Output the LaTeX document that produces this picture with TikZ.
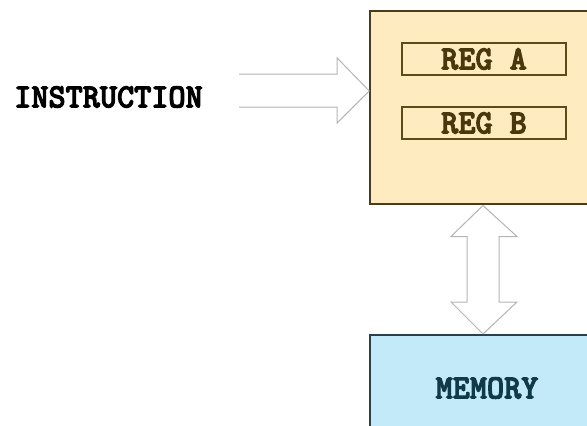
\documentclass[tikz,border=0pt]{standalone}
\usepackage{fontspec}
\newfontfamily\boxfont[FakeStretch=0.96, FakeBold=3]{lmmonolt10-bold.otf}
\usetikzlibrary{calc}
\definecolor{cpufill}{HTML}{FEEBC0}
\definecolor{cpuline}{HTML}{4A3C18}
\definecolor{regline}{HTML}{5C4A18}
\definecolor{regtext}{HTML}{4A380C}
\definecolor{memfill}{HTML}{C2EAF8}
\definecolor{memline}{HTML}{27414E}
\definecolor{memtext}{HTML}{103A4A}
\definecolor{arrline}{HTML}{B4B4B4}
\tikzset{
  lbl/.style={font=\boxfont\fontsize{34}{34}\selectfont, inner sep=0pt},
  regbox/.style={draw=regline, line width=1.6pt, fill=cpufill, minimum width=164pt, minimum height=32pt, inner sep=0pt},
  blockarrow/.style={draw=arrline, line width=1pt, fill=white, line join=miter},
}
\begin{document}
\begin{tikzpicture}[x=1pt,y=-1pt]
\useasboundingbox (0,0) rectangle (587,426);
\clip (0,0) rectangle (587,426);
% CPU box
\node[draw=cpuline, line width=1.6pt, fill=cpufill, minimum width=228pt, minimum height=193pt, inner sep=0pt] (cpu) at (484,107.5) {};
\node[regbox] (rega) at (484,59) {};
\node[regbox] (regb) at (484,123) {};
\node[lbl, text=regtext] (ta) at (rega.center) {REG A};
\node[lbl, text=regtext] (tb) at (regb.center) {REG B};
% Memory box
\node[draw=memline, line width=1.6pt, fill=memfill, minimum width=228pt, minimum height=100pt, inner sep=0pt, anchor=north] (mem) at (484,334) {};
\node[lbl, text=memtext] (tm) at (487,388) {MEMORY};
% Instruction label
\node[lbl, text=black] (instr) at (108.5,97) {INSTRUCTION};
% horizontal block arrow
\coordinate (htip) at (cpu.west |- 0,91);
\coordinate (hstart) at (239,91);
\draw[draw=arrline, line width=1pt, line join=miter]
  ($(hstart)+(0,-17)$) -- ($(htip)+(-32,-17)$) -- ($(htip)+(-32,-33)$) -- (htip)
  -- ($(htip)+(-32,32)$) -- ($(htip)+(-32,16)$) -- ($(hstart)+(0,16)$);
% vertical double block arrow
\coordinate (vtop) at (483,205.5);
\coordinate (vbot) at (mem.north -| vtop);
\draw[blockarrow]
  (vtop) -- ($(vtop)+(34,31)$) -- ($(vtop)+(16,31)$) -- ($(vbot)+(16,-32)$) -- ($(vbot)+(34,-32)$)
  -- (vbot) -- ($(vbot)+(-32,-32)$) -- ($(vbot)+(-16,-32)$) -- ($(vtop)+(-16,31)$) -- ($(vtop)+(-32,31)$) -- cycle;
\end{tikzpicture}
\end{document}
